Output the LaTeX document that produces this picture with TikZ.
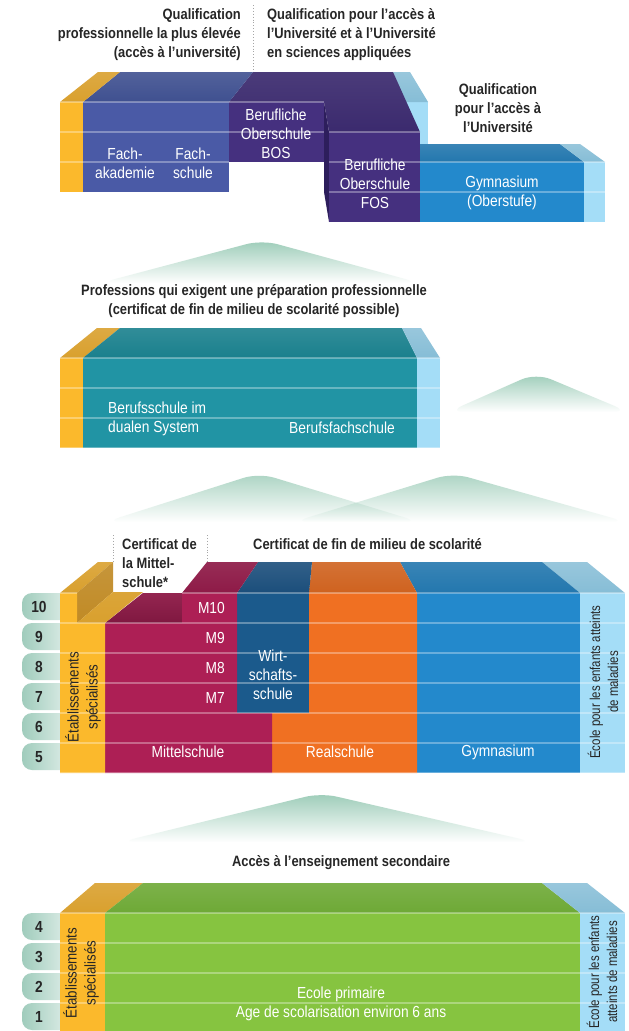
\documentclass[tikz,border=0pt]{standalone}
\usepackage{fontspec}
\setmainfont{Liberation Sans}[FakeStretch=0.86]
\newfontfamily\narrowfont{Liberation Sans}[FakeStretch=0.8]
\usetikzlibrary{fadings}
\definecolor{orF}{HTML}{FBB92C}
\definecolor{orT}{HTML}{D9A02E}
\definecolor{orS}{HTML}{C08A25}
\definecolor{faF}{HTML}{4A5AA6}
\definecolor{faT}{HTML}{3F5090}
\definecolor{puF}{HTML}{45307F}
\definecolor{puT}{HTML}{3B2A6E}
\definecolor{puS}{HTML}{2D1E5C}
\definecolor{gyF}{HTML}{2389CC}
\definecolor{gyT}{HTML}{2377AE}
\definecolor{lbF}{HTML}{A4DDF7}
\definecolor{lbT}{HTML}{86BDD6}
\definecolor{teF}{HTML}{2194A4}
\definecolor{teT}{HTML}{1A808D}
\definecolor{crF}{HTML}{AD1F55}
\definecolor{crT}{HTML}{8E1A47}
\definecolor{wiF}{HTML}{1B5A8C}
\definecolor{wiT}{HTML}{1B4E7B}
\definecolor{reF}{HTML}{F07022}
\definecolor{reT}{HTML}{CF621F}
\definecolor{grF}{HTML}{86C440}
\definecolor{grT}{HTML}{6EA936}
\definecolor{tabC}{HTML}{A0CCBC}
\definecolor{mnt}{HTML}{9CCCB8}
\definecolor{txd}{HTML}{262626}
\tikzfading[name=mfade, top color=transparent!0, middle color=transparent!30, bottom color=transparent!100]
\newcommand\hdrfont{\fontsize{15}{19}\selectfont\bfseries}
\newcommand\lblfont{\fontsize{16}{19}\selectfont}
\newcommand\rotfont{\fontsize{15.5}{19}\selectfont}
\newcommand\rotnfont{\narrowfont\fontsize{14.3}{18}\selectfont}
\newcommand\numfont{\fontsize{16}{16}\selectfont\bfseries}
\tikzset{
  hdr/.style={font=\hdrfont, text=txd, inner sep=0pt},
  lbl/.style={font=\lblfont, text=white, inner sep=0pt},
  rotl/.style={font=\rotfont, text=txd, inner sep=0pt, rotate=90, align=center},
  rotn/.style={font=\rotnfont, text=txd, inner sep=0pt, rotate=90, align=center},
  rowline/.style={white, opacity=0.32, line width=1.3pt},
  numtab/.style={left color=tabC, right color=tabC!30!white, rounded corners=10pt},
  numlbl/.style={font=\numfont, text=txd, inner sep=0pt},
  mountain/.style={fill=mnt, path fading=mfade, rounded corners=16pt},
  sepline/.style={gray!70, dotted, line width=0.9pt},
}
\begin{document}
\begin{tikzpicture}[x=1pt,y=-1pt]
\useasboundingbox (0,0) rectangle (629,1031);
\fill[white] (0,0) rectangle (629,1031);

% ================= TOP SECTION =================
\draw[sepline] (253,5) -- (253,72);
\node[hdr, align=right, anchor=east] (h1) at (241,35) {Qualification\\professionnelle la plus élevée\\(accès à l’université)};
\node[hdr, align=left, anchor=west] (h2) at (267,35) {Qualification pour l’accès à\\l’Université et à l’Université\\en sciences appliquées};
\node[hdr, align=center] (h3) at (498,108) {Qualification\\pour l’accès à\\l’Université};

% light blue upper piece
\fill[lbF] (400,102) rectangle (428,144);
\shade[top color=lbT!85!white, bottom color=lbT] (393,72) -- (410,72) -- (428,102) -- (404,102) -- cycle;
% gymnasium upper
\shade[top color=gyT!90!white, bottom color=gyT] (419,144) -- (560,144) -- (584,162) -- (420,162) -- cycle;
\fill[gyF] (420,162) rectangle (584,222);
\shade[top color=lbT!85!white, bottom color=lbT] (560,144) -- (580,144) -- (605,162) -- (584,162) -- cycle;
\fill[lbF] (584,162) rectangle (605,222);
% purple BOS / FOS
\fill[puS] (324,102) -- (329,132) -- (329,222) -- (324,192) -- cycle;
\fill[puF] (329,132) rectangle (420,222);
\shade[top color=puT!92!white, bottom color=puT] (229,102) -- (253,72) -- (393,72) -- (420,132) -- (329,132) -- (324,102) -- cycle;
\fill[puF] (229,102) rectangle (324,162);
% Fach
\shade[top color=faT!90!white, bottom color=faT] (83,102) -- (120,72) -- (253,72) -- (229,102) -- cycle;
\fill[faF] (83,102) rectangle (229,192);
% orange
\shade[top color=orT!90!white, bottom color=orT] (60,102) -- (98,72) -- (120,72) -- (83,102) -- cycle;
\fill[orF] (60,102) rectangle (83,192);
% row lines
\draw[rowline] (60,102) -- (324,102);
\draw[rowline] (60,132) -- (324,132);
\draw[rowline] (329,132) -- (420,132);
\draw[rowline] (60,162) -- (229,162);
\draw[rowline] (329,162) -- (605,162);
\draw[rowline] (329,192) -- (605,192);

\node[lbl, align=center] (fak) at (125,163) {Fach-\\akademie};
\node[lbl, align=center] (fsch) at (193,163) {Fach-\\schule};
\node[lbl, align=center] (bos) at (276,134) {Berufliche\\Oberschule\\BOS};
\node[lbl, align=center] (fos) at (375,184) {Berufliche\\Oberschule\\FOS};
\node[lbl, align=center] (gymo) at (502,193) {Gymnasium\\(Oberstufe)};

% ================= MIDDLE SECTION =================
\fill[mountain] (100,283) -- (262,240) -- (420,283) -- cycle;
\node[hdr, align=center] (prof) at (254,301) {Professions qui exigent une préparation professionnelle\\(certificat de fin de milieu de scolarité possible)};

\shade[top color=orT!90!white, bottom color=orT] (60,358) -- (97,328) -- (120,328) -- (83,358) -- cycle;
\fill[orF] (60,358) rectangle (83,448);
\shade[top color=teT!90!white, bottom color=teT] (83,358) -- (120,328) -- (402,328) -- (417,358) -- cycle;
\fill[teF] (83,358) rectangle (417,448);
\shade[top color=lbT!85!white, bottom color=lbT] (402,328) -- (421,328) -- (440,358) -- (417,358) -- cycle;
\fill[lbF] (417,358) rectangle (440,448);
\foreach \yy in {358,388,418,448} \draw[rowline] (60,\yy) -- (440,\yy);
\node[lbl, align=left, anchor=west] (bsd) at (108,419) {Berufsschule im\\dualen System};
\node[lbl] (bfs) at (342,428) {Berufsfachschule};

\fill[mountain] (448,412) -- (536,373) -- (629,412) -- cycle;

% ================= LOWER SECONDARY =================
\begin{scope}[fill opacity=0.85]
\fill[mountain] (105,522) -- (259,473) -- (420,522) -- cycle;
\fill[mountain] (293,522) -- (453,473) -- (627,522) -- cycle;
\end{scope}

\draw[sepline] (113,535) -- (113,562);
\draw[sepline] (207,535) -- (207,562);
\node[hdr, align=left, anchor=west] (cms) at (122,563) {Certificat de\\la Mittel-\\schule*};
\node[hdr, anchor=west] (cfm) at (253,544) {Certificat de fin de milieu de scolarité};

% number tabs 10..5
\foreach \n [count=\i from 0] in {10,9,8,7,6,5} {
  \shade[numtab] (22,593+30*\i) rectangle (72,620+30*\i);
  \node[numlbl] (n\n) at (39,607+30*\i) {\n};
}
% light blue
\shade[top color=lbT!85!white, bottom color=lbT] (542,562) -- (587,562) -- (625,593) -- (580,593) -- cycle;
\fill[lbF] (580,593) rectangle (625,773);
% gymnasium
\shade[top color=gyT!90!white, bottom color=gyT] (400,562) -- (542,562) -- (580,593) -- (417,593) -- cycle;
\fill[gyF] (417,593) rectangle (580,773);
% realschule
\shade[top color=reT!90!white, bottom color=reT] (312,562) -- (400,562) -- (417,593) -- (309,593) -- cycle;
\fill[reF] (309,593) -- (417,593) -- (417,773) -- (272,773) -- (272,713) -- (309,713) -- cycle;
% wirtschaftsschule
\shade[top color=wiT!90!white, bottom color=wiT] (258,562) -- (312,562) -- (309,593) -- (237,593) -- cycle;
\fill[wiF] (237,593) rectangle (309,713);
% mittelschule
\shade[top color=crT!92!white, bottom color=crT] (207,562) -- (258,562) -- (237,593) -- (182,593) -- cycle;
\shade[top color=crT!95!white, bottom color=crT!90!black] (143,593) -- (182,593) -- (182,623) -- (105,623) -- cycle;
\fill[crF] (182,593) -- (237,593) -- (237,713) -- (272,713) -- (272,773) -- (105,773) -- (105,623) -- (182,623) -- cycle;
% orange
\shade[top color=orT!90!white, bottom color=orT] (60,593) -- (98,562) -- (113,562) -- (77,593) -- cycle;
\shade[top color=orS!90!white, bottom color=orS] (77,593) -- (113,562) -- (113,592) -- (77,623) -- cycle;
\shade[top color=orT!95!white, bottom color=orT] (77,623) -- (113,592) -- (143,592) -- (105,623) -- cycle;
\fill[orF] (60,593) -- (77,593) -- (77,623) -- (105,623) -- (105,773) -- (60,773) -- cycle;
% row lines
\draw[rowline] (60,593) -- (77,593);
\draw[rowline] (182,593) -- (625,593);
\foreach \yy in {623,653,683,713,743,773} \draw[rowline] (60,\yy) -- (625,\yy);

\node[lbl, anchor=east] (m10) at (225,608) {M10};
\node[lbl, anchor=east] (m9) at (225,638) {M9};
\node[lbl, anchor=east] (m8) at (225,668) {M8};
\node[lbl, anchor=east] (m7) at (225,698) {M7};
\node[lbl, align=center] (wirt) at (273,675) {Wirt-\\schafts-\\schule};
\node[lbl] (mit) at (188,752) {Mittelschule};
\node[lbl] (real) at (340,752) {Realschule};
\node[lbl] (gym) at (498,752) {Gymnasium};
\node[rotl] (etab1) at (83,697) {Établissements\\spécialisés};
\node[rotn] (ecole1) at (603,682) {École pour les enfants atteints\\de maladies};

% ================= PRIMARY =================
\fill[mountain] (120,842) -- (321,793) -- (534,842) -- cycle;
\node[hdr] (acc) at (341,863) {Accès à l’enseignement secondaire};

\foreach \n [count=\i from 0] in {4,3,2,1} {
  \shade[numtab] (22,913+30*\i) rectangle (72,940+30*\i);
  \node[numlbl] (p\n) at (39,927+30*\i) {\n};
}
\shade[top color=orT!90!white, bottom color=orT] (60,913) -- (95,883) -- (143,883) -- (105,913) -- cycle;
\fill[orF] (60,913) rectangle (105,1031);
\shade[top color=grT!90!white, bottom color=grT] (105,913) -- (143,883) -- (542,883) -- (580,913) -- cycle;
\fill[grF] (105,913) rectangle (580,1031);
\shade[top color=lbT!85!white, bottom color=lbT] (542,883) -- (587,883) -- (625,913) -- (580,913) -- cycle;
\fill[lbF] (580,913) rectangle (625,1031);
\foreach \yy in {913,943,973,1003} \draw[rowline] (60,\yy) -- (625,\yy);

\node[lbl, align=center] (prim) at (341,1004) {Ecole primaire\\Age de scolarisation environ 6 ans};
\node[rotl] (etab2) at (81,973) {Établissements\\spécialisés};
\node[rotn] (ecole2) at (602,972) {École pour les enfants\\atteints de maladies};
\end{tikzpicture}
\end{document}
